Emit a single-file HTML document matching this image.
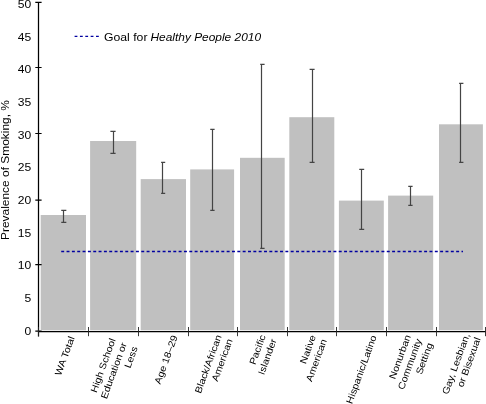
<!DOCTYPE html>
<html><head><meta charset="utf-8"><style>
html,body{margin:0;padding:0;background:#fff;overflow:hidden;}
svg{display:block;font-family:"Liberation Sans", sans-serif;will-change:transform;}
</style></head><body>
<svg width="486" height="404" viewBox="0 0 486 404">
<rect x="40.7" y="215.0" width="45.30" height="115.30" fill="#c0c0c0"/>
<rect x="90.1" y="141.0" width="46.10" height="189.30" fill="#c0c0c0"/>
<rect x="140.7" y="179.1" width="45.30" height="151.20" fill="#c0c0c0"/>
<rect x="190.2" y="169.4" width="43.90" height="160.90" fill="#c0c0c0"/>
<rect x="240.0" y="157.8" width="44.70" height="172.50" fill="#c0c0c0"/>
<rect x="289.3" y="117.2" width="45.00" height="213.10" fill="#c0c0c0"/>
<rect x="338.9" y="200.6" width="44.90" height="129.70" fill="#c0c0c0"/>
<rect x="388.1" y="195.6" width="45.10" height="134.70" fill="#c0c0c0"/>
<rect x="439.0" y="124.3" width="43.90" height="206.00" fill="#c0c0c0"/>
<line x1="61.22" y1="251.45" x2="463" y2="251.45" stroke="#0000a0" stroke-width="1.5" stroke-dasharray="2.95 2.387"/>
<path d="M63.5 210.4V222.4M61.25 210.4H66.34M61.25 222.4H66.34" stroke="#444" stroke-width="1.2" fill="none"/>
<path d="M113.5 131.4V153.45M110.40 131.4H115.60M110.40 153.45H115.60" stroke="#444" stroke-width="1.2" fill="none"/>
<path d="M162.5 162.4V193.45M161.10 162.4H165.20M161.10 193.45H165.20" stroke="#444" stroke-width="1.2" fill="none"/>
<path d="M212.5 129.4V210.45M210.25 129.4H214.60M210.25 210.45H214.60" stroke="#444" stroke-width="1.2" fill="none"/>
<path d="M261.5 64.4V248.4M260.20 64.4H264.60M260.20 248.4H264.60" stroke="#444" stroke-width="1.2" fill="none"/>
<path d="M312.5 69.4V162.45M309.60 69.4H314.60M309.60 162.45H314.60" stroke="#444" stroke-width="1.2" fill="none"/>
<path d="M361.5 169.4V229.45M359.25 169.4H364.20M359.25 229.45H364.20" stroke="#444" stroke-width="1.2" fill="none"/>
<path d="M410.5 186.4V205.45M408.25 186.4H412.60M408.25 205.45H412.60" stroke="#444" stroke-width="1.2" fill="none"/>
<path d="M460.5 83.4V162.45M459.10 83.4H463.40M459.10 162.45H463.40" stroke="#444" stroke-width="1.2" fill="none"/>
<path d="M38.5 2V336.5M38 331.5H485.8" stroke="#000" stroke-width="1.25" fill="none"/>
<path d="M35.3 331.20H41.6M35.3 264.70H41.6M35.3 200.20H41.6M35.3 133.50H41.6M35.3 67.50H41.6M35.3 2.40H41.6" stroke="#000" stroke-width="1.2" fill="none"/>
<path d="M38.50 327V336.2M88.50 327V336.2M138.50 327V336.2M188.50 327V336.2M237.50 327V336.2M287.50 327V336.2M336.50 327V336.2M386.50 327V336.2M436.50 327V336.2M485.50 327V336.2" stroke="#222" stroke-width="0.9" fill="none"/>
<text transform="translate(31.2 334.60) scale(1.07 1)" text-anchor="end" font-size="11.3" fill="#000">0</text>
<text transform="translate(31.2 301.93) scale(1.07 1)" text-anchor="end" font-size="11.3" fill="#000">5</text>
<text transform="translate(31.2 269.26) scale(1.07 1)" text-anchor="end" font-size="11.3" fill="#000">10</text>
<text transform="translate(31.2 236.59) scale(1.07 1)" text-anchor="end" font-size="11.3" fill="#000">15</text>
<text transform="translate(31.2 203.92) scale(1.07 1)" text-anchor="end" font-size="11.3" fill="#000">20</text>
<text transform="translate(31.2 171.25) scale(1.07 1)" text-anchor="end" font-size="11.3" fill="#000">25</text>
<text transform="translate(31.2 138.58) scale(1.07 1)" text-anchor="end" font-size="11.3" fill="#000">30</text>
<text transform="translate(31.2 105.91) scale(1.07 1)" text-anchor="end" font-size="11.3" fill="#000">35</text>
<text transform="translate(31.2 73.24) scale(1.07 1)" text-anchor="end" font-size="11.3" fill="#000">40</text>
<text transform="translate(31.2 40.57) scale(1.07 1)" text-anchor="end" font-size="11.3" fill="#000">45</text>
<text transform="translate(31.2 7.90) scale(1.07 1)" text-anchor="end" font-size="11.3" fill="#000">50</text>
<line x1="74.6" y1="36.4" x2="99.2" y2="36.4" stroke="#0000a0" stroke-width="1.3" stroke-dasharray="2.8 2.55"/>
<text x="104" y="41" font-size="11.3" fill="#000" textLength="43.5" lengthAdjust="spacingAndGlyphs">Goal for</text>
<text x="150.5" y="41" font-size="11.3" font-style="italic" fill="#000" textLength="110.5" lengthAdjust="spacingAndGlyphs">Healthy People 2010</text>
<text transform="translate(8.9 240) rotate(-90)" font-size="10.4" fill="#000" textLength="140" lengthAdjust="spacingAndGlyphs">Prevalence of Smoking, %</text>
<g transform="translate(74.75 337.80) rotate(-70) scale(1.11 1)" font-size="9.5" fill="#000"><text x="0" y="0.00" text-anchor="end">WA Total</text></g>
<g transform="translate(115.85 339.90) rotate(-70) scale(1.11 1)" font-size="9.5" fill="#000"><text x="0" y="0.00" text-anchor="end">High School</text><text x="0" y="11.70" text-anchor="end">Education or</text><text x="0" y="23.40" text-anchor="end">Less</text></g>
<g transform="translate(177.65 336.80) rotate(-70) scale(1.11 1)" font-size="9.5" fill="#000"><text x="0" y="0.00" text-anchor="end">Age 18–29</text></g>
<g transform="translate(221.70 336.20) rotate(-70) scale(1.11 1)" font-size="9.5" fill="#000"><text x="0" y="0.00" text-anchor="end">Black/African</text><text x="0" y="11.70" text-anchor="end">American</text></g>
<g transform="translate(265.80 336.20) rotate(-70) scale(1.11 1)" font-size="9.5" fill="#000"><text x="0" y="0.00" text-anchor="end">Pacific</text><text x="0" y="11.70" text-anchor="end">Islander</text></g>
<g transform="translate(316.00 336.40) rotate(-70) scale(1.11 1)" font-size="9.5" fill="#000"><text x="0" y="0.00" text-anchor="end">Native</text><text x="0" y="11.70" text-anchor="end">American</text></g>
<g transform="translate(376.70 336.80) rotate(-70) scale(1.11 1)" font-size="9.5" fill="#000"><text x="0" y="0.00" text-anchor="end">Hispanic/Latino</text></g>
<g transform="translate(410.90 336.20) rotate(-70) scale(1.11 1)" font-size="9.5" fill="#000"><text x="0" y="0.00" text-anchor="end">Nonurban</text><text x="0" y="11.70" text-anchor="end">Community</text><text x="0" y="23.40" text-anchor="end">Setting</text></g>
<g transform="translate(469.90 334.80) rotate(-70) scale(1.11 1)" font-size="9.5" fill="#000"><text x="0" y="0.00" text-anchor="end">Gay, Lesbian,</text><text x="0" y="11.70" text-anchor="end">or Bisexual</text></g>
</svg>
</body></html>
